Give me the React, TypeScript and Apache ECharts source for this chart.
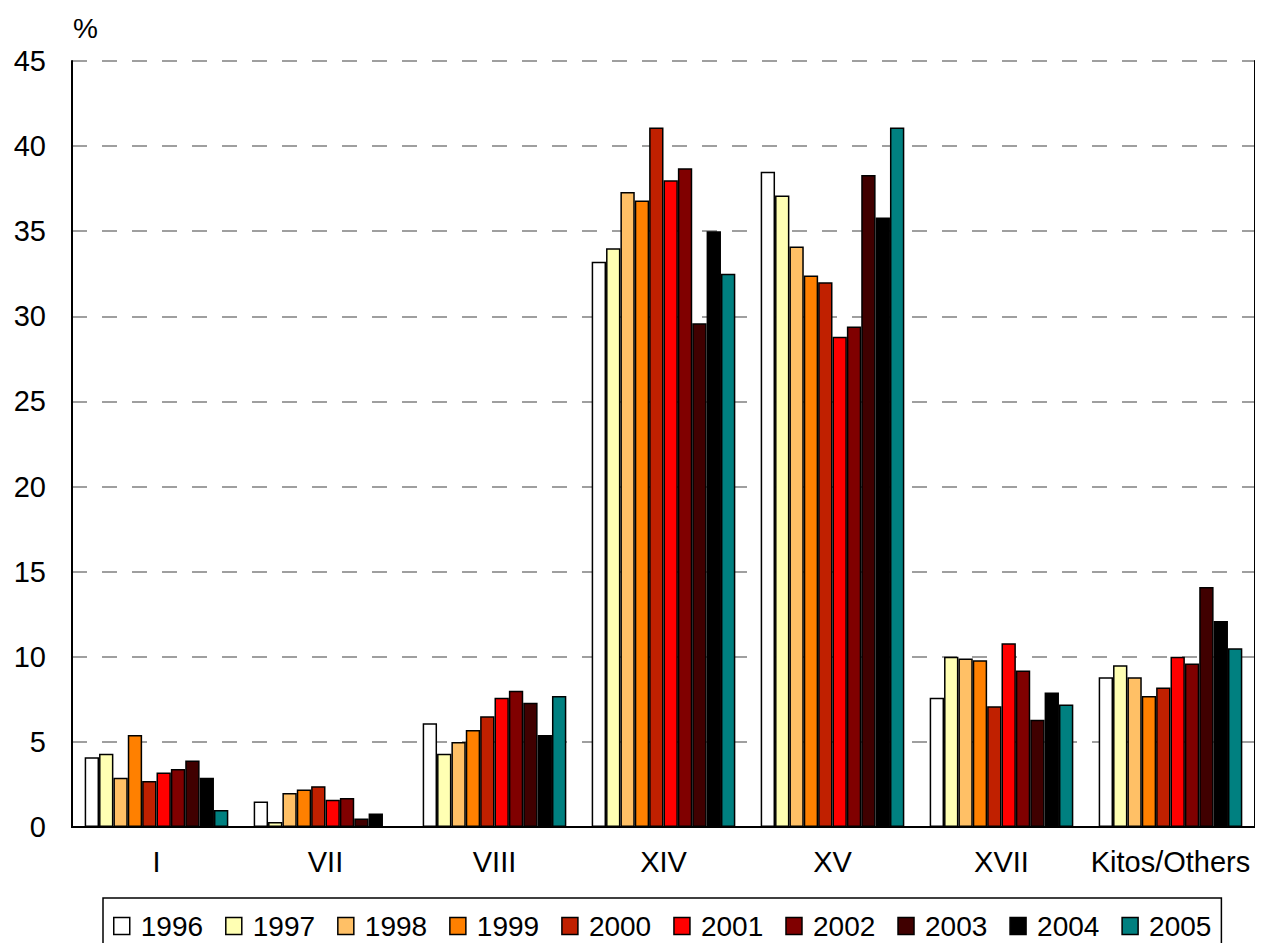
import React, { useEffect, useRef } from "react";
import * as echarts from "echarts";

const categories = ["I", "VII", "VIII", "XIV", "XV", "XVII", "Kitos/Others"];
const years = ["1996", "1997", "1998", "1999", "2000", "2001", "2002", "2003", "2004", "2005"];
const colors = ["#FFFFFF", "#FFFFB3", "#FFC066", "#FF8000", "#C02000", "#FF0000", "#800000", "#400000", "#000000", "#008080"];

const v1996 = [4.1, 1.5, 6.1, 33.2, 38.5, 7.6, 8.8];
const v1997 = [4.3, 0.3, 4.3, 34.0, 37.1, 10.0, 9.5];
const v1998 = [2.9, 2.0, 5.0, 37.3, 34.1, 9.9, 8.8];
const v1999 = [5.4, 2.2, 5.7, 36.8, 32.4, 9.8, 7.7];
const v2000 = [2.7, 2.4, 6.5, 41.1, 32.0, 7.1, 8.2];
const v2001 = [3.2, 1.6, 7.6, 38.0, 28.8, 10.8, 10.0];
const v2002 = [3.4, 1.7, 8.0, 38.7, 29.4, 9.2, 9.6];
const v2003 = [3.9, 0.5, 7.3, 29.6, 38.3, 6.3, 14.1];
const v2004 = [2.9, 0.8, 5.4, 35.0, 35.8, 7.9, 12.1];
const v2005 = [1.0, 0.0, 7.7, 32.5, 41.1, 7.2, 10.5];

const seriesValues = [v1996, v1997, v1998, v1999, v2000, v2001, v2002, v2003, v2004, v2005];

const yTicks = { min: 0, max: 45, interval: 5 };

const FONT = "'Liberation Sans', Arial, sans-serif";

export default function App() {
  const ref = useRef<HTMLDivElement>(null);
  useEffect(() => {
    if (!ref.current) return;
    const chart = echarts.init(ref.current, null, { renderer: "svg" });
    chart.setOption({
      animation: false,
      backgroundColor: "#ffffff",
      textStyle: { fontFamily: FONT },
      grid: { left: 72, right: 8, top: 61, bottom: 116, containLabel: false },
      graphic: [
        {
          type: "text",
          left: 73,
          top: 14,
          style: { text: "%", fontSize: 28, fontFamily: FONT, fill: "#000" },
        },
      ],
      legend: {
        top: 898,
        left: 103,
        orient: "horizontal",
        data: years,
        icon: "rect",
        itemWidth: 16,
        itemHeight: 17,
        itemGap: 22,
        padding: [14, 10, 20, 10],
        borderColor: "#000",
        borderWidth: 1.5,
        backgroundColor: "#fff",
        itemStyle: { borderColor: "#000", borderWidth: 1.5 },
        textStyle: { fontSize: 28, fontFamily: FONT, color: "#000", padding: [0, 0, 0, 6] },
      },
      xAxis: [
        {
          type: "category",
          data: categories,
          position: "bottom",
          axisLine: { lineStyle: { color: "#000", width: 2 } },
          axisTick: { show: false },
          axisLabel: { interval: 0, fontSize: 29, color: "#000", margin: 20, fontFamily: FONT },
        },
        {
          type: "category",
          data: categories,
          position: "top",
          axisLine: { show: true, lineStyle: { color: "#000", width: 2 } },
          axisTick: { show: false },
          axisLabel: { show: false },
        },
      ],
      yAxis: [
        {
          type: "value",
          min: yTicks.min,
          max: yTicks.max,
          interval: yTicks.interval,
          axisLine: { show: true, lineStyle: { color: "#000", width: 2 } },
          axisTick: { show: false },
          axisLabel: { fontSize: 29, color: "#000", margin: 26, fontFamily: FONT },
          splitLine: { show: true, lineStyle: { color: "#808080", width: 1.5, type: [15, 15] } },
        },
        {
          type: "value",
          min: yTicks.min,
          max: yTicks.max,
          interval: yTicks.interval,
          position: "right",
          axisLine: { show: true, lineStyle: { color: "#000", width: 2 } },
          axisTick: { show: false },
          axisLabel: { show: false },
          splitLine: { show: false },
        },
      ],
      series: years.map((y, i) => ({
        name: y,
        type: "bar",
        data: seriesValues[i],
        barGap: "0%",
        barCategoryGap: "15%",
        itemStyle: {
          color: colors[i],
          borderColor: "#000",
          borderWidth: 1.5,
        },
      })),
    });
    return () => chart.dispose();
  }, []);
  return <div ref={ref} style={{ width: 1263, height: 943, marginLeft: -8, marginTop: -8 }} />;
}
